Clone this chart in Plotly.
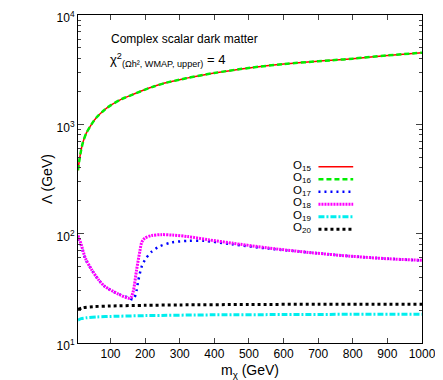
import plotly.graph_objects as go

# upper bound curves (O15, O16 coincide)
m_up = [6, 10, 15, 20, 30, 45, 60, 83, 100, 132, 160, 200, 227, 260, 300, 324,
        400, 506, 600, 700, 738, 800, 900, 1000]
lam_up = [380, 470, 580, 680, 830, 1000, 1160, 1360, 1490, 1700, 1850, 2080, 2230,
          2400, 2560, 2660, 2950, 3300, 3560, 3780, 3850, 3990, 4270, 4520]

m_18 = [6, 15, 27, 45, 65, 83, 123, 152, 159, 166, 175, 185, 190, 199, 218, 247,
        280, 324, 382, 450, 556, 680, 800, 900, 1000]
lam_18 = [96, 80, 60, 47, 38, 33, 28, 25.7, 26, 30, 46, 70, 83, 91, 96, 98,
          97, 94, 88, 82, 74, 67, 62, 59, 57]

m_17 = [6, 15, 27, 45, 65, 83, 123, 152, 166, 175, 180, 190, 200, 218, 240, 276,
        324, 371, 450, 556, 680, 800, 900, 1000]
lam_17 = [90, 78, 59, 47, 38, 33, 28, 26, 25, 30, 37, 50, 58, 68, 76, 83,
          86, 86, 80, 73, 67, 62, 59, 57]

m_19 = [6, 15, 30, 60, 100, 200, 400, 600, 800, 1000]
lam_19 = [16.2, 16.7, 17.0, 17.3, 17.5, 17.8, 18.1, 18.2, 18.3, 18.3]

m_20 = [6, 20, 50, 100, 200, 300, 500, 700, 1000]
lam_20 = [20.3, 21.0, 21.5, 21.8, 22.1, 22.3, 22.5, 22.6, 22.6]

labels = ["O<sub>15</sub>", "O<sub>16</sub>", "O<sub>17</sub>",
          "O<sub>18</sub>", "O<sub>19</sub>", "O<sub>20</sub>"]

styles = [
    dict(color="#ff0000", width=1.5, dash="solid"),
    dict(color="#00ee00", width=2.5, dash="5px,3px"),
    dict(color="#0000ff", width=2.5, dash="2px,4px"),
    dict(color="#ff00ff", width=3, dash="2px,1px"),
    dict(color="#00eeee", width=3, dash="6px,2px,2px,2px"),
    dict(color="#000000", width=3, dash="3px,3px"),
]

series = [(m_up, lam_up), (m_up, lam_up), (m_17, lam_17),
          (m_18, lam_18), (m_19, lam_19), (m_20, lam_20)]

fig = go.Figure()
for (mx, ly), st, lab in zip(series, styles, labels):
    fig.add_trace(go.Scatter(x=mx, y=ly, mode="lines", name=lab,
                             line=dict(shape="spline", smoothing=0.8, **st),
                             showlegend=False))

# hand-drawn legend: text on the left, line sample on the right
y0 = 0.537
step = 0.0381
for i, (st, lab) in enumerate(zip(styles, labels)):
    yy = y0 - i * step
    fig.add_shape(type="line", xref="paper", yref="paper",
                  x0=0.699, x1=0.800, y0=yy, y1=yy, line=st)
    fig.add_annotation(text=lab, xref="paper", yref="paper", x=0.683, y=yy + 0.004,
                       xanchor="right", yanchor="middle", showarrow=False,
                       font=dict(size=11.5))

fig.add_annotation(text="Complex scalar dark matter", xref="paper", yref="paper",
                   x=0.091, y=0.926, xanchor="left", yanchor="middle",
                   showarrow=False, font=dict(size=12))
fig.add_annotation(text="χ<sup>2</sup><sub>(Ωh², WMAP, upper)</sub> = 4",
                   xref="paper", yref="paper", x=0.088, y=0.862,
                   xanchor="left", yanchor="middle", showarrow=False,
                   font=dict(size=13))

minor_y = [v * d for d in (10, 100, 1000) for v in range(2, 10)]

fig.update_xaxes(range=[6, 1000], tickvals=list(range(100, 1001, 100)),
                 ticks="inside", ticklen=5, showline=True, linecolor="black",
                 mirror="allticks", showgrid=False, zeroline=False,
                 automargin=False, ticklabeloverflow="allow",
                 title=dict(text="m<sub>χ</sub> (GeV)", standoff=6))
fig.update_yaxes(type="log", range=[1, 4], tickvals=[10, 100, 1000, 10000],
                 ticktext=["10<sup>1</sup>", "10<sup>2</sup>",
                           "10<sup>3</sup>", "10<sup>4</sup>"],
                 ticks="inside", ticklen=6, showline=True, linecolor="black",
                 mirror="allticks", showgrid=False, zeroline=False,
                 automargin=False, ticklabeloverflow="allow", ticklabelshift=3,
                 minor=dict(tickvals=minor_y, ticks="inside", ticklen=3,
                            showgrid=False),
                 title=dict(text="Λ (GeV)", standoff=0))

# page body keeps an 8px margin, so everything is drawn 8px further in
fig.update_layout(template="none", width=435, height=372,
                  margin=dict(l=70, r=21, t=7, b=37),
                  plot_bgcolor="white", paper_bgcolor="white",
                  font=dict(family="Liberation Sans, Arial, sans-serif",
                            size=12, color="black"))

fig.write_html("out.html")
